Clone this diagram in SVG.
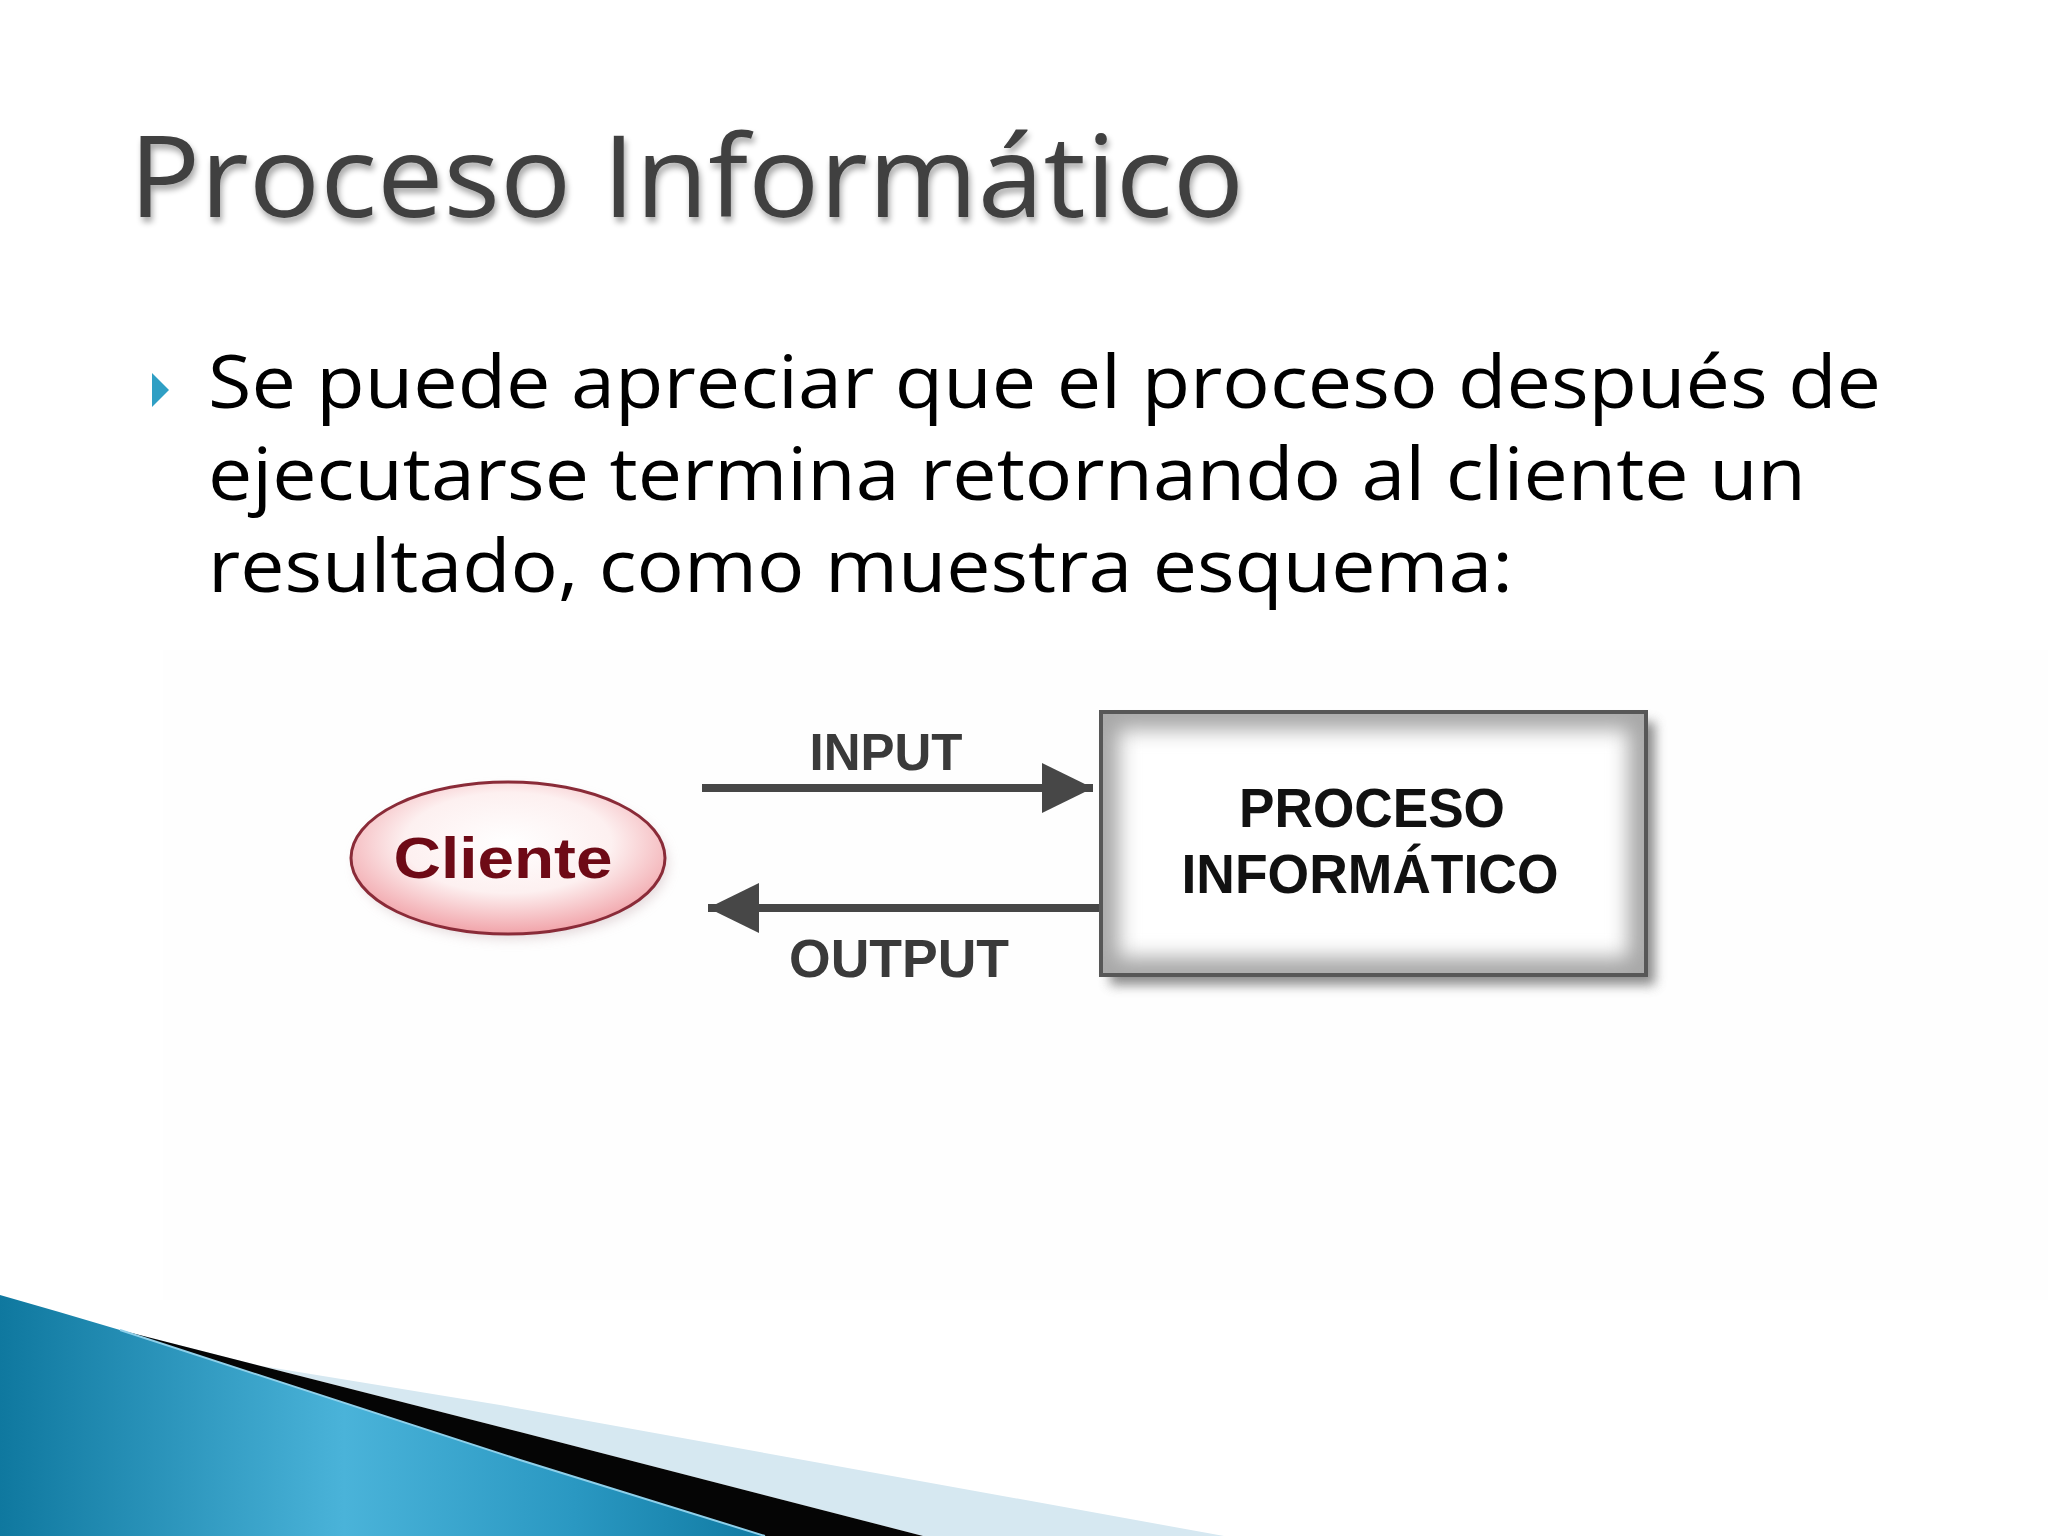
<svg xmlns="http://www.w3.org/2000/svg" width="2048" height="1536" viewBox="0 0 2048 1536">
<defs>
<style>
.title{font-family:"Open Sans","Noto Sans","DejaVu Sans",sans-serif;font-size:114px;fill:#404040}
.body{font-family:"Open Sans","Noto Sans","DejaVu Sans",sans-serif;font-size:74px;fill:#000}
.lbl{font-family:"Liberation Sans",Arial,sans-serif;font-weight:bold;fill:#3a3a3a}
.box-t{font-family:"Liberation Sans",Arial,sans-serif;font-weight:bold;font-size:55px;fill:#111;text-anchor:middle}
.conn{stroke:#474747;stroke-width:8;fill:none}
.conn-sh{stroke:#c4c4c4;stroke-width:10;fill:none}
</style>
<filter id="tsh" x="-5%" y="-20%" width="110%" height="150%">
<feGaussianBlur in="SourceAlpha" stdDeviation="3"/>
<feOffset dx="2" dy="5" result="b"/>
<feComponentTransfer><feFuncA type="linear" slope="0.35"/></feComponentTransfer>
<feMerge><feMergeNode/><feMergeNode in="SourceGraphic"/></feMerge>
</filter>
<filter id="blur6" x="-20%" y="-20%" width="140%" height="140%"><feGaussianBlur stdDeviation="6"/></filter>
<filter id="blur10" x="-20%" y="-20%" width="140%" height="140%"><feGaussianBlur stdDeviation="10"/></filter>
<filter id="blur3" x="-20%" y="-50%" width="140%" height="200%"><feGaussianBlur stdDeviation="3"/></filter>
<radialGradient id="ellG" cx="50%" cy="40%" r="60%">
<stop offset="0" stop-color="#ffffff"/>
<stop offset="0.55" stop-color="#fdf0f0"/>
<stop offset="1" stop-color="#f1a3a9"/>
</radialGradient>
<linearGradient id="blueG" x1="0" y1="0" x2="1" y2="0" gradientUnits="objectBoundingBox">
<stop offset="0" stop-color="#0f789f"/>
<stop offset="0.45" stop-color="#4ab3d9"/>
<stop offset="0.75" stop-color="#2a98c2"/>
<stop offset="1" stop-color="#107aa2"/>
</linearGradient>
<clipPath id="boxClip"><rect x="1101" y="712" width="545" height="263"/></clipPath>
<marker id="ah" markerUnits="userSpaceOnUse" markerWidth="54" markerHeight="54" refX="51" refY="25" orient="auto">
<path d="M0 0 L51 25 L0 50 Z" fill="#474747"/>
</marker>
</defs>

<rect x="0" y="0" width="2048" height="1536" fill="#ffffff"/>
<rect x="163" y="650" width="1885" height="650" fill="#fefefe"/>

<g id="title">
<text class="title" x="129" y="217" textLength="1115" lengthAdjust="spacingAndGlyphs" filter="url(#tsh)">Proceso Informático</text>
</g>

<g id="bullet-text">
<polygon points="152,373 169,390 152,407" fill="#2f9fc4"/>
<text class="body" x="208" y="408" textLength="1673" lengthAdjust="spacingAndGlyphs">Se puede apreciar que el proceso después de</text>
<text class="body" x="208" y="500" textLength="1598" lengthAdjust="spacingAndGlyphs">ejecutarse termina retornando al cliente un</text>
<text class="body" x="208" y="592" textLength="1305" lengthAdjust="spacingAndGlyphs">resultado, como muestra esquema:</text>
</g>

<g id="connectors">
<path class="conn-sh" d="M706 800 H1040" filter="url(#blur3)"/>
<path class="conn-sh" d="M760 920 H1100" filter="url(#blur3)"/>
<path class="conn" d="M702 788 H1093" marker-end="url(#ah)"/>
<path class="conn" d="M1100 908 H708" marker-end="url(#ah)"/>
<text class="lbl" x="886" y="770" font-size="51" text-anchor="middle" textLength="153" lengthAdjust="spacingAndGlyphs">INPUT</text>
<text class="lbl" x="899" y="977" font-size="53" text-anchor="middle" textLength="220" lengthAdjust="spacingAndGlyphs">OUTPUT</text>
</g>

<g id="node-cliente">
<ellipse cx="512" cy="864" rx="156" ry="75" fill="#d9c9cc" filter="url(#blur6)" opacity="0.7"/>
<ellipse cx="508" cy="858" rx="157" ry="76" fill="url(#ellG)" stroke="#8a2b38" stroke-width="3"/>
<text x="503" y="878" font-family="'Liberation Sans',Arial,sans-serif" font-weight="bold" font-size="57" fill="#6e0a16" text-anchor="middle" textLength="219" lengthAdjust="spacingAndGlyphs">Cliente</text>
</g>

<g id="node-proceso">
<rect x="1110" y="722" width="545" height="263" fill="#6e6e6e" filter="url(#blur6)" opacity="0.8"/>
<rect x="1101" y="712" width="545" height="263" fill="#ffffff"/>
<rect x="1101" y="712" width="545" height="263" fill="none" stroke="#a8a8a8" stroke-width="36" filter="url(#blur10)" clip-path="url(#boxClip)"/>
<rect x="1101" y="712" width="545" height="263" fill="none" stroke="#575757" stroke-width="4"/>
<text class="box-t" x="1372" y="827" textLength="266" lengthAdjust="spacingAndGlyphs">PROCESO</text>
<text class="box-t" x="1370" y="893" textLength="377" lengthAdjust="spacingAndGlyphs">INFORMÁTICO</text>
</g>

<g id="swoosh">
<path d="M90 1338 Q300 1372 500 1405 L1224 1536 L923 1536 L520 1432 L120 1330 Z" fill="#d6e8f1"/>
<path d="M120 1330 L520 1432 L923 1536 L765 1536 L520 1460 Z" fill="#050505"/>
<path d="M0 1295 Q60 1312 120 1330 L520 1460 L765 1536 L0 1536 Z" fill="url(#blueG)"/>
<path d="M120 1330 L520 1460 L765 1536" fill="none" stroke="#8fd0ea" stroke-width="2"/>
</g>
</svg>
